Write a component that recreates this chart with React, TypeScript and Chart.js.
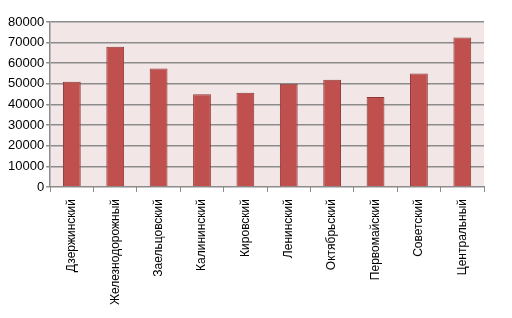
import React, { useEffect, useRef } from "react";
import { Chart, registerables } from "chart.js";

Chart.register(...registerables);

const categories = [
  "Дзержинский",
  "Железнодорожный",
  "Заельцовский",
  "Калининский",
  "Кировский",
  "Ленинский",
  "Октябрьский",
  "Первомайский",
  "Советский",
  "Центральный",
];
const values = [51000, 68000, 57500, 45000, 45700, 50000, 52000, 43600, 55000, 72500];
const yTicks = [0, 10000, 20000, 30000, 40000, 50000, 60000, 70000, 80000];

const plotBg = {
  id: "plotBg",
  beforeDraw(chart: any) {
    const { ctx, chartArea } = chart;
    if (!chartArea) return;
    ctx.save();
    ctx.fillStyle = "#F2E6E6";
    ctx.fillRect(chartArea.left, chartArea.top, chartArea.right - chartArea.left, chartArea.bottom - chartArea.top);
    ctx.restore();
  },
};

export default function App() {
  const ref = useRef<HTMLCanvasElement | null>(null);
  useEffect(() => {
    document.body.style.margin = "0";
    const chart = new Chart(ref.current as HTMLCanvasElement, {
      type: "bar",
      data: {
        labels: categories,
        datasets: [
          {
            data: values,
            backgroundColor: "#C0504D",
            borderColor: "#8C3836",
            borderWidth: 1,
            categoryPercentage: 1,
            barPercentage: 0.41,
          },
        ],
      },
      options: {
        animation: false,
        responsive: false,
        layout: { padding: { top: 22, right: 28, bottom: 6, left: 6 } },
        plugins: { legend: { display: false }, tooltip: { enabled: false } },
        scales: {
          x: {
            grid: {
              offset: true,
              drawOnChartArea: false,
              drawTicks: true,
              tickLength: 5,
              color: "#8C8C8C",
            },
            border: { display: true, color: "#8C8C8C", width: 1 },
            ticks: {
              color: "#000",
              minRotation: 90,
              maxRotation: 90,
              autoSkip: false,
              padding: 7,
              font: { family: "Liberation Sans, Arial", size: 12 },
            },
          },
          y: {
            min: 0,
            max: 80000,
            afterBuildTicks(scale: any) {
              scale.ticks = yTicks.map((v) => ({ value: v }));
            },
            grid: {
              color: "#8C8C8C",
              lineWidth: 1.5,
              drawTicks: true,
              tickLength: 4,
            },
            border: { display: true, color: "#8C8C8C", width: 1.5 },
            ticks: {
              color: "#000",
              padding: 2,
              font: { family: "Liberation Sans, Arial", size: 13 },
              callback: (v: any) => String(v),
            },
          },
        },
      },
      plugins: [plotBg],
    });
    return () => chart.destroy();
  }, []);
  return (
    <div style={{ position: "absolute", left: 0, top: 0, width: 512, height: 318 }}>
      <canvas ref={ref} width={512} height={318} style={{ width: 512, height: 318 }} />
    </div>
  );
}
